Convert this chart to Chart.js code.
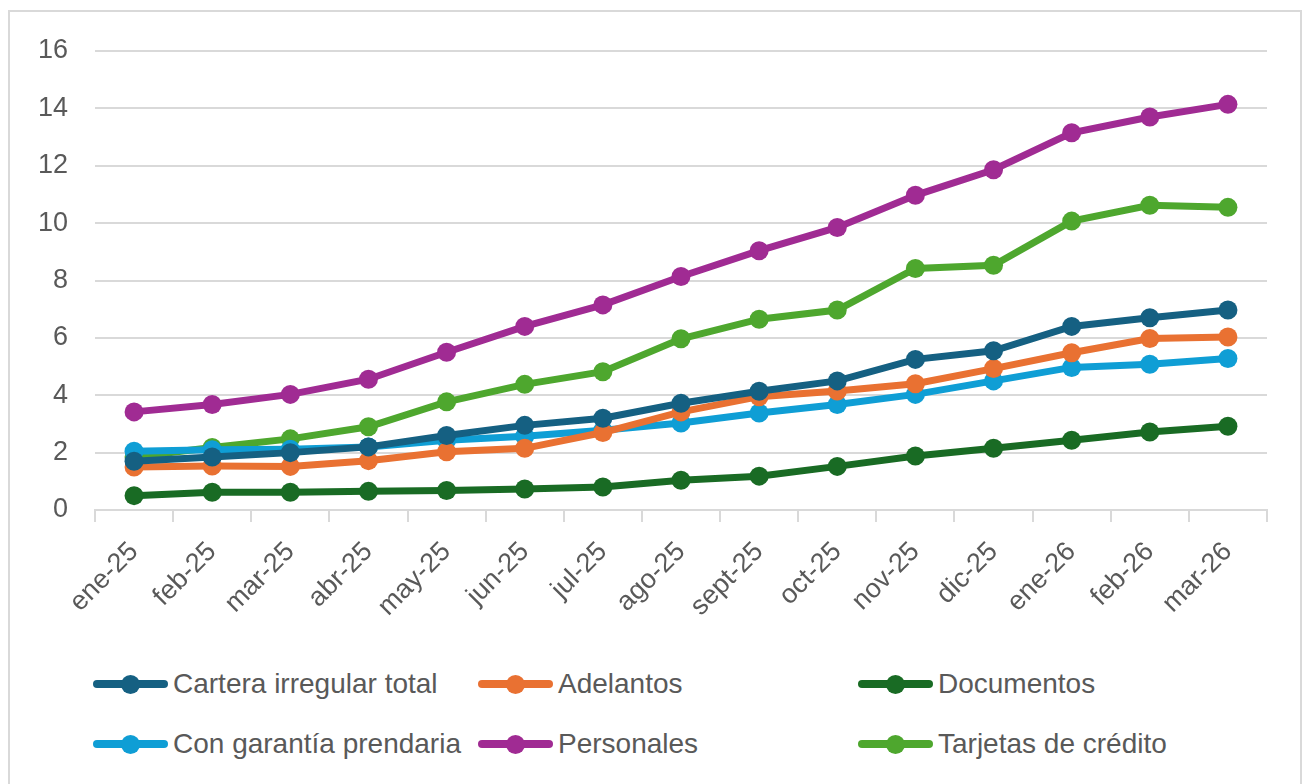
<!DOCTYPE html>
<html>
<head>
<meta charset="utf-8">
<script src="https://cdn.jsdelivr.net/npm/chart.js@4.4.1/dist/chart.umd.min.js"></script>
<style>
  html, body { margin: 0; padding: 0; background: #fff; }
  body { width: 1307px; height: 784px; position: relative; overflow: hidden; font-family: "Liberation Sans", Arial, sans-serif; }
  #frame { position: absolute; left: 8px; top: 10px; width: 1290px; height: 800px; border: 2px solid #d9d9d9; }
  #wrap { position: absolute; left: 0; top: 0; width: 1307px; height: 620px; }
  #legend { position: absolute; left: 0; top: 0; }
  .item { position: absolute; display: flex; align-items: center; height: 30px; color: #595959; font-size: 28px; white-space: nowrap; }
  .mark { position: relative; width: 75px; height: 30px; margin-right: 5px; }
  .mark .ln { position: absolute; left: 0; right: 0; top: 11px; height: 8px; border-radius: 4px; }
  .mark .dot { position: absolute; left: 28px; top: 6px; width: 19px; height: 19px; border-radius: 50%; }
</style>
</head>
<body>
<div id="frame"></div>
<div id="wrap"><canvas id="lineChart"></canvas></div>
<div id="legend"></div>
<script>
const months = ['ene-25', 'feb-25', 'mar-25', 'abr-25', 'may-25', 'jun-25', 'jul-25', 'ago-25',
    'sept-25', 'oct-25', 'nov-25', 'dic-25', 'ene-26', 'feb-26', 'mar-26'];

const carteraTotal = [1.7, 1.85, 2.0, 2.2, 2.6, 2.95, 3.2, 3.72, 4.14, 4.5, 5.25, 5.55, 6.4, 6.7, 6.97];
const adelantos = [1.5, 1.53, 1.52, 1.72, 2.03, 2.15, 2.7, 3.42, 3.95, 4.15, 4.4, 4.93, 5.48, 5.98, 6.03];
const documentos = [0.5, 0.62, 0.62, 0.65, 0.68, 0.73, 0.8, 1.04, 1.18, 1.52, 1.88, 2.15, 2.43, 2.72, 2.92];
const garantiaPrendaria = [2.05, 2.1, 2.12, 2.2, 2.43, 2.57, 2.78, 3.03, 3.38, 3.68, 4.03, 4.5, 4.97, 5.08, 5.28];
const personales = [3.42, 3.68, 4.03, 4.56, 5.5, 6.4, 7.15, 8.14, 9.04, 9.85, 10.97, 11.86, 13.15, 13.7, 14.14];
const tarjetas = [1.85, 2.18, 2.48, 2.9, 3.77, 4.38, 4.82, 5.97, 6.65, 6.97, 8.42, 8.53, 10.07, 10.62, 10.55];

const yTicks = [0, 2, 4, 6, 8, 10, 12, 14, 16];

const series = [
    { label: 'Cartera irregular total', data: carteraTotal, color: '#156082' },
    { label: 'Adelantos', data: adelantos, color: '#E97132' },
    { label: 'Documentos', data: documentos, color: '#196B24' },
    { label: 'Con garantía prendaria', data: garantiaPrendaria, color: '#0F9ED5' },
    { label: 'Personales', data: personales, color: '#A02B93' },
    { label: 'Tarjetas de crédito', data: tarjetas, color: '#4EA72E' }
];

// legend grid like the spreadsheet one: 3 columns, 2 rows
const legendCols = [93, 478, 858];
const legendRows = [669, 729];
const legendEl = document.getElementById('legend');
series.forEach((s, i) => {
    const item = document.createElement('div');
    item.className = 'item';
    item.style.left = legendCols[i % 3] + 'px';
    item.style.top = legendRows[Math.floor(i / 3)] + 'px';
    item.innerHTML = '<span class="mark"><span class="ln" style="background:' + s.color + '"></span>' +
        '<span class="dot" style="background:' + s.color + '"></span></span><span></span>';
    item.lastChild.textContent = s.label;
    legendEl.appendChild(item);
});

const tickFont = { family: '"Liberation Sans", Arial, sans-serif', size: 27 };

new Chart(document.getElementById('lineChart'), {
    type: 'line',
    data: {
        labels: months,
        datasets: series.map(s => ({
            label: s.label,
            data: s.data,
            borderColor: s.color,
            backgroundColor: s.color,
            pointBackgroundColor: s.color,
            pointBorderColor: s.color,
            borderWidth: 7,
            pointRadius: 9.5,
            pointBorderWidth: 0,
            tension: 0
        }))
    },
    options: {
        responsive: true,
        maintainAspectRatio: false,
        animation: false,
        layout: { padding: { left: 0, right: 40, top: 51, bottom: 0 } },
        plugins: {
            legend: { display: false },
            tooltip: { enabled: false }
        },
        scales: {
            x: {
                offset: true,
                grid: {
                    offset: true,
                    drawOnChartArea: false,
                    drawTicks: true,
                    tickLength: 12,
                    color: '#d9d9d9',
                    lineWidth: 2
                },
                border: { display: true, color: '#d9d9d9', width: 2 },
                ticks: {
                    color: '#595959',
                    font: tickFont,
                    minRotation: 45,
                    maxRotation: 45,
                    autoSkip: false,
                    padding: 14
                },
                afterFit: axis => { axis.height = 110; }
            },
            y: {
                min: 0,
                max: 16,
                afterBuildTicks: axis => { axis.ticks = yTicks.map(v => ({ value: v })); },
                grid: { color: '#d9d9d9', lineWidth: 2, drawTicks: false },
                border: { display: false },
                ticks: { color: '#595959', font: tickFont, padding: 27 },
                afterFit: axis => { axis.width = 95; }
            }
        }
    }
});
</script>
</body>
</html>
